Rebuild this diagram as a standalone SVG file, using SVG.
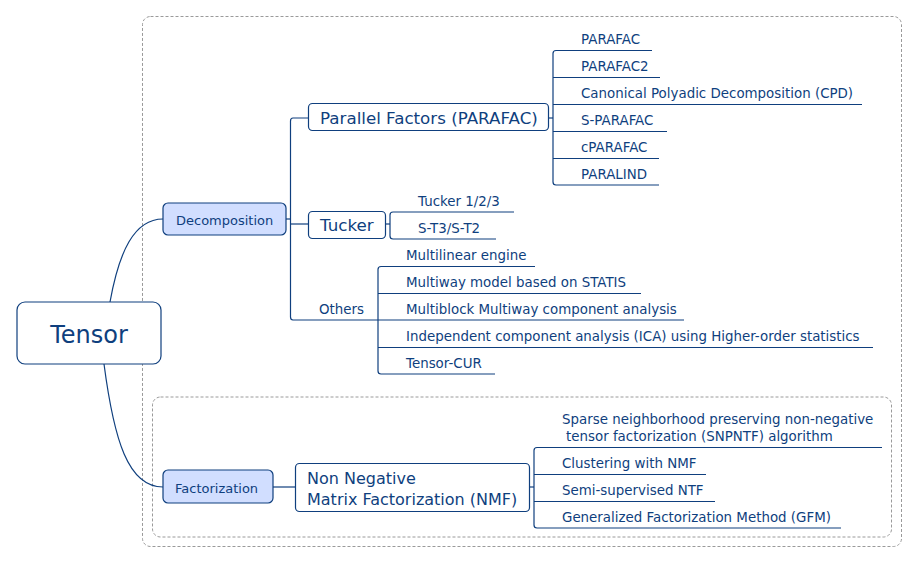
<svg xmlns="http://www.w3.org/2000/svg" width="918" height="564" viewBox="0 0 918 564">
<style>
text{font-family:"DejaVu Sans",Verdana,sans-serif;fill:#0f3f7e}
.s{font-size:13.4px}
.n{font-size:13px}
.m{font-size:16.7px}
.m2{font-size:16px}
.node{fill:#fff;stroke:#0f3f7e;stroke-width:1.2}
.blue{fill:#d1deff;stroke:#0f3f7e;stroke-width:1.2}
.ln{fill:none;stroke:#0f3f7e;stroke-width:1.2}
.dash{fill:none;stroke:#9a9a9a;stroke-width:1;stroke-dasharray:3 2}
</style>
<rect width="918" height="564" fill="#fff"/>
<rect class="dash" x="142.5" y="16.5" width="759" height="530" rx="8"/>
<rect class="dash" x="152.5" y="397" width="739" height="140" rx="8"/>
<g id="connectors">
<path class="ln" d="M110,302 C119,252 134,219 163,219"/>
<path class="ln" d="M104,364 C114,440 128,487 163,487"/>
<path class="ln" d="M286,219 H290"/>
<path class="ln" d="M308,118 H293 Q290.5,118 290.5,121 V317 Q290.5,320 293,320 H684"/>
<path class="ln" d="M290.5,224 H308"/>
<path class="ln" d="M548,118 H553"/>
<path class="ln" d="M652,50.5 H556 Q553,50.5 553,53.5 V182 Q553,185 556,185 H659"/>
<path class="ln" d="M553,77.5 H660 M553,104.5 H862 M553,131.5 H667 M553,158.5 H659"/>
<path class="ln" d="M386,224 H390"/>
<path class="ln" d="M514,212 H393 Q390,212 390,215 V236 Q390,239 393,239 H496"/>
<path class="ln" d="M535,266.5 H381 Q378,266.5 378,269.5 V371 Q378,374 381,374 H495"/>
<path class="ln" d="M378,293.5 H641 M378,347.5 H873"/>
<path class="ln" d="M273,487 H295"/>
<path class="ln" d="M530,487 H534"/>
<path class="ln" d="M882,447.5 H537 Q534,447.5 534,450.5 V525 Q534,528 537,528 H841"/>
<path class="ln" d="M534,474.5 H706 M534,501.5 H715"/>
</g>
<g id="tensor"><rect class="node" x="17" y="302" width="144" height="62" rx="8"/><text x="89" y="343" font-size="24" text-anchor="middle">Tensor</text></g>
<g id="decomposition"><rect class="blue" x="163" y="203" width="123" height="32" rx="5"/><text class="n" x="176" y="225">Decomposition</text></g>
<g id="factorization"><rect class="blue" x="163" y="470" width="110" height="33" rx="5"/><text class="n" x="175" y="493">Factorization</text></g>
<g id="parafac-node"><rect class="node" x="308.5" y="103.5" width="240" height="27" rx="4"/><text class="m" x="320" y="124">Parallel Factors (PARAFAC)</text></g>
<g id="tucker"><rect class="node" x="308.5" y="211.5" width="77" height="27" rx="4"/><text class="m" x="320" y="231">Tucker</text></g>
<g id="others"><text class="s" x="319" y="314">Others</text></g>
<g id="nmf"><rect class="node" x="295.5" y="463.5" width="234" height="48" rx="4"/><text class="m2" x="307" y="484">Non Negative</text><text class="m2" x="307" y="505">Matrix Factorization (NMF)</text></g>
<g id="p1"><text class="s" x="581" y="44">PARAFAC</text></g>
<g id="p2"><text class="s" x="581" y="71">PARAFAC2</text></g>
<g id="p3"><text class="s" x="581" y="98">Canonical Polyadic Decomposition (CPD)</text></g>
<g id="p4"><text class="s" x="581" y="125">S-PARAFAC</text></g>
<g id="p5"><text class="s" x="581" y="152">cPARAFAC</text></g>
<g id="p6"><text class="s" x="581" y="179">PARALIND</text></g>
<g id="t1"><text class="s" x="418" y="206">Tucker 1/2/3</text></g>
<g id="t2"><text class="s" x="418" y="233">S-T3/S-T2</text></g>
<g id="o1"><text class="s" x="406" y="260">Multilinear engine</text></g>
<g id="o2"><text class="s" x="406" y="287">Multiway model based on STATIS</text></g>
<g id="o3"><text class="s" x="406" y="314">Multiblock Multiway component analysis</text></g>
<g id="o4"><text class="s" x="406" y="341">Independent component analysis (ICA) using Higher-order statistics</text></g>
<g id="o5"><text class="s" x="406" y="368">Tensor-CUR</text></g>
<g id="f1"><text class="s" x="562" y="424">Sparse neighborhood preserving non-negative</text><text class="s" x="566" y="441">tensor factorization (SNPNTF) algorithm</text></g>
<g id="f2"><text class="s" x="562" y="468">Clustering with NMF</text></g>
<g id="f3"><text class="s" x="562" y="495">Semi-supervised NTF</text></g>
<g id="f4"><text class="s" x="562" y="522">Generalized Factorization Method (GFM)</text></g>
</svg>
